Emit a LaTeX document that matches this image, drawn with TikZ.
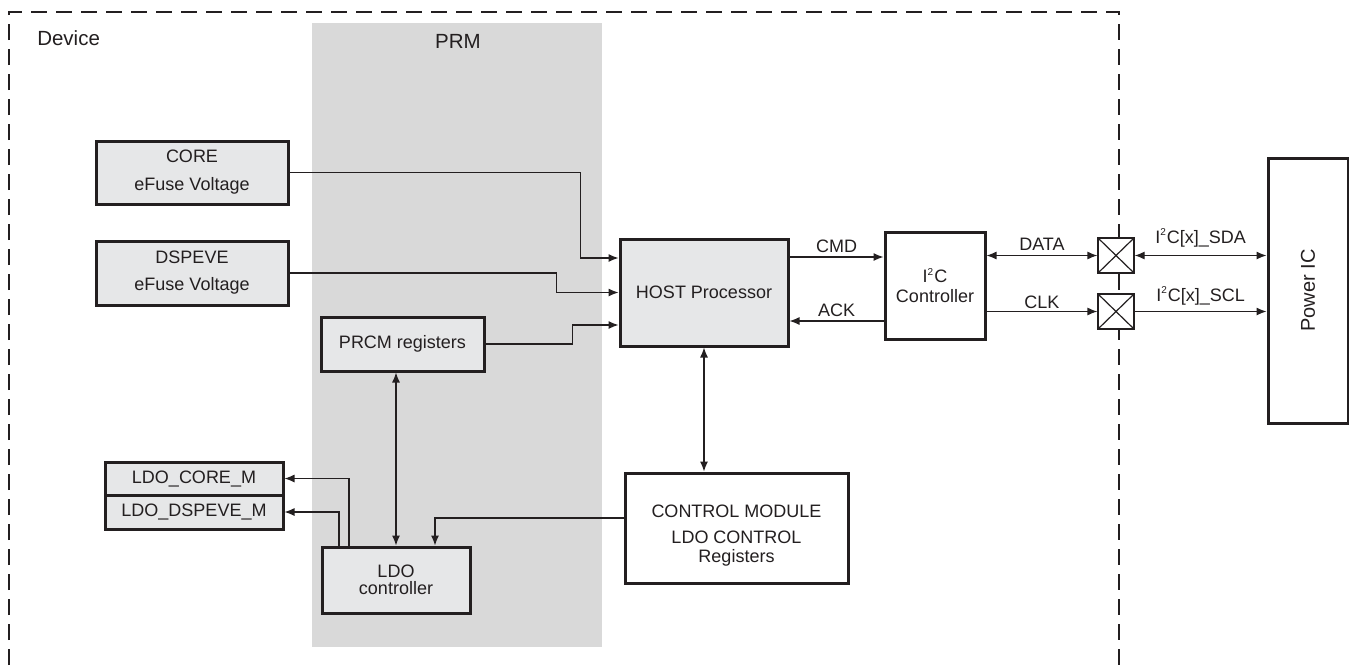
\documentclass[tikz,border=0pt]{standalone}
\usepackage{fontspec}
\setmainfont{Liberation Sans}
\usepackage{tikz}
\usetikzlibrary{arrows.meta,positioning,calc}
\definecolor{ink}{HTML}{231F20}
\definecolor{boxgray}{HTML}{E6E7E8}
\definecolor{prmgray}{HTML}{D9D9D9}
\begin{document}
\begin{tikzpicture}[
  x=0.5pt, y=-0.5pt, color=ink,
  font=\fontsize{9}{11}\selectfont, >={Latex[length=5pt,width=4pt]},
  line width=0.6pt,
  blk/.style={draw, line width=1.5pt, fill=boxgray, align=center, inner sep=0pt},
  wblk/.style={blk, fill=white},
  pad/.style={draw, fill=white, line width=0.6pt, minimum width=18pt, minimum height=17.5pt,
    inner sep=0pt, path picture={\draw (path picture bounding box.north west) -- (path picture bounding box.south east)
      (path picture bounding box.south west) -- (path picture bounding box.north east);}},
  lbl/.style={above, inner sep=2pt},
  big/.style={font=\fontsize{10.25}{12}\selectfont},
  devline/.style={dashed, line width=1pt, dash pattern=on 8pt off 4.5pt},
]
\useasboundingbox (0,0) rectangle (1349,665);
% ---- PRM region and device boundary
\fill[prmgray] (312,23) rectangle (602,647);
\node[big] (prm) at (458,41) {PRM};
\draw[devline] (9,665) -- (9,12) -- (1119,12) -- (1119,665);
\node[big, anchor=west] (dev) at (30,38) {Device};
% ---- blocks
\node[blk, minimum width=96pt, minimum height=31.5pt] (core) at (192,172.5) {CORE\\[3pt]eFuse Voltage};
\node[blk, minimum width=96pt, minimum height=32pt] (dspeve) at (192,273) {DSPEVE\\[2.5pt]eFuse Voltage};
\node[blk, minimum width=84pt, minimum height=53.5pt] (host) at (704,292.5) {HOST Processor};
\node[blk, minimum width=81.5pt, minimum height=27pt] (prcm) at (402.5,344) {PRCM registers};
\node[blk, minimum width=74pt, minimum height=33pt] (ldo) at (396,580) {LDO\\[-2.5pt]controller};
\node[blk, minimum width=89pt, minimum height=16.5pt] (ldocore) at (194,478.5) {LDO\_CORE\_M};
\node[blk, minimum width=89pt, minimum height=17pt] (ldodsp) at (194,512) {LDO\_DSPEVE\_M};
\node[wblk, minimum width=111.5pt, minimum height=55pt] (ctrl) at (736.5,528)
  {\raisebox{-4pt}[\height][\depth]{\begin{tabular}{@{}c@{}}CONTROL MODULE\\[2pt]LDO CONTROL\\[-1.5pt]Registers\end{tabular}}};
\node[wblk, minimum width=50pt, minimum height=53.5pt] (i2c) at (935,285.5)
  {I\textsuperscript{\fontsize{5}{5}\selectfont 2}C\\[-1pt]Controller};
\node[pad] (pad1) at (1116,255.5) {};
\node[pad] (pad2) at (1116,311.5) {};
\node[wblk, minimum width=40pt, minimum height=132.5pt] (power) at (1308,290.5)
  {\rotatebox{90}{\fontsize{10}{12}\selectfont Power IC}};
% ---- inputs of the host
\draw[->] (core.east) -- ++(291,0) |- ([yshift=17.25pt]host.west);
\draw[->] (dspeve.east) -- ++(267,0) |- (host.west);
\draw[->] (prcm.east) -- ++(87,0) |- ([yshift=-16.25pt]host.west);
\draw[<->] (host.south) -- (host.south |- ctrl.north);
% ---- LDO side
\draw[<->] (ldo.north |- prcm.south) -- (ldo.north);
\draw[->] ([yshift=5pt]ctrl.west) -| ([xshift=19.5pt]ldo.north);
\draw[->] ([xshift=-23.5pt]ldo.north) |- (ldocore.east);
\draw[->] ([xshift=-28.5pt]ldo.north) |- (ldodsp.east);
% ---- I2C path
\draw[->] ([yshift=17.75pt]host.east) -- node[lbl]{CMD} ([yshift=17.75pt]host.east -| i2c.west);
\draw[<-] ([yshift=-14.25pt]host.east) -- node[lbl]{ACK} ([yshift=-14.25pt]host.east -| i2c.west);
\draw[<->] (i2c.east |- pad1.west) -- node[lbl]{DATA} (pad1.west);
\draw[->] (i2c.east |- pad2.west) -- node[lbl, inner sep=1pt]{CLK} (pad2.west);
\draw[<->] (pad1.east) -- node[above=3pt, inner sep=1pt]{I\textsuperscript{\fontsize{5}{5}\selectfont 2}C[x]\_SDA} (pad1.east -| power.west);
\draw[->] (pad2.east) -- node[above=2pt, inner sep=1pt]{I\textsuperscript{\fontsize{5}{5}\selectfont 2}C[x]\_SCL} (pad2.east -| power.west);
\end{tikzpicture}
\end{document}
